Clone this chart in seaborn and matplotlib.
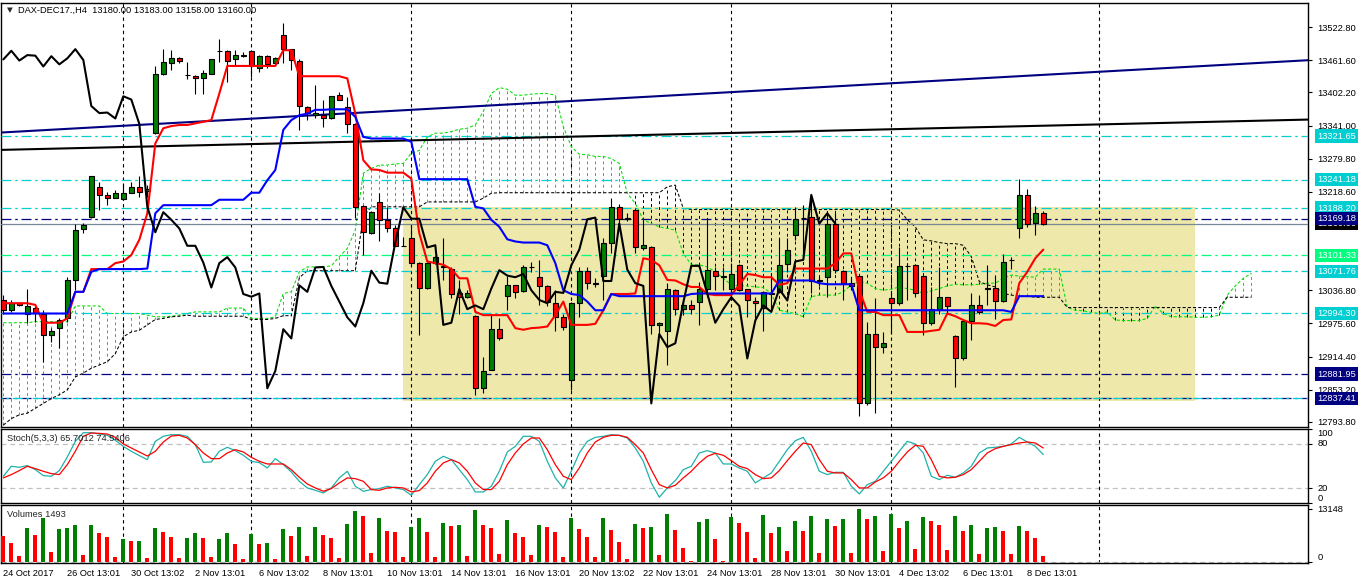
import numpy as np
import matplotlib
matplotlib.use("Agg")
import matplotlib.pyplot as plt
from matplotlib import font_manager
import seaborn as sns

# DAX-DEC17 H4 candles (oldest first)
opens = [13019, 13000, 13014, 12994, 13005, 12994, 12954, 12967, 12985, 13056,
         13150, 13173, 13228, 13213, 13208, 13205, 13217, 13227, 13221, 13327,
         13436, 13457, 13465, 13435, 13432, 13428, 13437, 13479, 13478, 13463,
         13471, 13478, 13448, 13469, 13456, 13509, 13482, 13461, 13375, 13360,
         13360, 13354, 13397, 13376, 13343, 13193, 13142, 13200, 13167, 13151,
         13119, 13133, 13088, 13042, 13087, 13082, 13077, 13031, 13025, 12989,
         12856, 12890, 12965, 13026, 13046, 13036, 13080, 13061, 13045, 13014,
         12988, 12871, 13013, 13073, 13050, 13064, 13125, 13190, 13170, 13186,
         13115, 13117, 12973, 12961, 13037, 13002, 13010, 13015, 13040, 13073,
         13064, 13039, 13084, 13039, 13018, 13004, 13030, 13034, 13085, 13139,
         13170, 13172, 13055, 13061, 13160, 13073, 13051, 13064, 12828, 12956,
         12932, 13023, 13014, 13082, 13083, 13063, 12977, 13003, 13024, 12952,
         12911, 12981, 13009, 13042, 13041, 13018, 13093, 13151, 13213, 13161,
         13180]
highs = [13028, 13019, 13016, 13040, 13007, 13000, 12967, 12985, 13062, 13160,
         13162, 13248, 13237, 13219, 13222, 13235, 13237, 13247, 13231, 13450,
         13483, 13480, 13467, 13459, 13434, 13443, 13464, 13500, 13480, 13480,
         13477, 13480, 13471, 13471, 13468, 13531, 13483, 13463, 13377, 13416,
         13388, 13396, 13403, 13394, 13345, 13195, 13183, 13216, 13191, 13157,
         13136, 13157, 13089, 13090, 13100, 13133, 13079, 13056, 13037, 12991,
         12914, 12994, 12985, 13063, 13047, 13084, 13090, 13093, 13046, 13037,
         12994, 13015, 13080, 13080, 13059, 13133, 13207, 13197, 13179, 13188,
         13167, 13118, 12978, 13050, 13039, 13019, 13019, 13053, 13167, 13080,
         13080, 13087, 13085, 13040, 13025, 13036, 13068, 13133, 13133, 13191,
         13194, 13210, 13062, 13179, 13179, 13075, 13062, 13066, 12979, 13022,
         12959, 13031, 13117, 13087, 13084, 13064, 13043, 13080, 13025, 12954,
         12983, 13032, 13028, 13083, 13065, 13104, 13099, 13242, 13224, 13192,
         13183]
lows = [12994, 12997, 13007, 12976, 12979, 12905, 12942, 12930, 12979, 13037,
        13143, 13171, 13185, 13194, 13207, 13204, 13216, 13210, 13210, 13326,
        13434, 13443, 13456, 13426, 13400, 13400, 13436, 13459, 13422, 13453,
        13468, 13431, 13440, 13447, 13454, 13456, 13443, 13333, 13351, 13354,
        13339, 13353, 13388, 13327, 13170, 13102, 13140, 13127, 13145, 13118,
        13118, 13087, 12955, 13040, 13085, 13056, 13022, 12994, 13022, 12844,
        12847, 12889, 12946, 13000, 13023, 13034, 13071, 13010, 13007, 12961,
        12964, 12853, 12988, 13040, 13043, 13019, 13105, 13154, 13164, 13105,
        13111, 12957, 12957, 12899, 12991, 12991, 12994, 12973, 13025, 13037,
        13037, 13019, 13036, 12988, 12982, 12961, 13000, 13031, 13071, 13130,
        13099, 13031, 13044, 13025, 13068, 13019, 13037, 12804, 12825, 12811,
        12922, 12957, 13010, 13019, 13025, 12955, 12973, 12994, 12994, 12859,
        12909, 12945, 12994, 13010, 12983, 13016, 13077, 13134, 13154, 13139,
        13158]
closes = [13000, 13013, 13010, 13007, 12995, 12954, 12962, 12982, 13056, 13149,
          13158, 13247, 13212, 13208, 13216, 13216, 13227, 13219, 13224, 13437,
          13458, 13465, 13461, 13434, 13428, 13438, 13463, 13479, 13461, 13471,
          13470, 13450, 13469, 13454, 13465, 13482, 13462, 13377, 13364, 13365,
          13354, 13395, 13389, 13344, 13191, 13144, 13181, 13167, 13151, 13119,
          13119, 13088, 13042, 13087, 13098, 13079, 13030, 13025, 13031, 12856,
          12888, 12965, 12948, 13046, 13034, 13079, 13080, 13045, 13016, 12987,
          12970, 13013, 13073, 13051, 13049, 13125, 13190, 13169, 13169, 13116,
          13120, 12973, 12977, 13039, 13002, 13009, 13002, 13040, 13074, 13064,
          13061, 13067, 13037, 13019, 13013, 13034, 13032, 13083, 13112, 13168,
          13171, 13054, 13054, 13160, 13075, 13050, 13045, 12828, 12956, 12932,
          12939, 13014, 13082, 13082, 13031, 12977, 13002, 13024, 13008, 12911,
          12981, 13009, 12997, 13039, 13018, 13090, 13093, 13213, 13160, 13179,
          13160]

# Ichimoku lines as drawn
tenkan = [13013, 13013, 13013, 13013, 13010, 12977, 12977, 12977, 12985, 13034,
          13034, 13076, 13076, 13076, 13087, 13090, 13102, 13130, 13179, 13308,
          13336, 13340, 13342, 13342, 13345, 13348, 13351, 13400, 13451, 13451,
          13451, 13451, 13451, 13451, 13451, 13480, 13480, 13432, 13432, 13432,
          13432, 13432, 13432, 13428, 13363, 13277, 13260, 13259, 13254, 13254,
          13254, 13243, 13142, 13090, 13087, 13084, 13076, 13059, 13059, 12997,
          12991, 12991, 12991, 12991, 12967, 12964, 12967, 12968, 12970, 12991,
          13016, 12973, 12973, 12973, 12975, 13000, 13030, 13030, 13030, 13031,
          13096, 13093, 13083, 13056, 13055, 13048, 13043, 13043, 13030, 13028,
          13028, 13028, 13047, 13067, 13065, 13061, 13061, 13047, 13050, 13077,
          13077, 13077, 13077, 13077, 13087, 13105, 13105, 13037, 12997, 12997,
          12991, 12991, 12991, 12960, 12960, 12960, 12962, 12964, 12994, 12989,
          12982, 12976, 12976, 12975, 12971, 12982, 12983, 13050, 13071, 13096,
          13112]
kijun = [12994, 12994, 12994, 12994, 12994, 12994, 12994, 12994, 12994, 13034,
         13034, 13071, 13076, 13076, 13076, 13076, 13076, 13076, 13077, 13179,
         13194, 13194, 13194, 13194, 13194, 13194, 13194, 13204, 13204, 13204,
         13204, 13217, 13217, 13240, 13259, 13333, 13351, 13360, 13363, 13370,
         13370, 13371, 13371, 13371, 13357, 13320, 13317, 13317, 13317, 13317,
         13317, 13311, 13242, 13242, 13242, 13242, 13242, 13242, 13242, 13191,
         13188, 13167, 13154, 13131, 13127, 13125, 13125, 13125, 13120, 13087,
         13037, 13030, 13028, 13016, 13000, 13000, 13030, 13026, 13026, 13026,
         13026, 13026, 13026, 13026, 13026, 13026, 13030, 13031, 13031, 13031,
         13031, 13031, 13031, 13031, 13031, 13031, 13031, 13055, 13055, 13055,
         13055, 13055, 13050, 13048, 13048, 13048, 13048, 13000, 13000, 13000,
         13000, 13000, 13000, 13000, 13000, 13000, 13000, 13000, 13000, 13000,
         13000, 13000, 13000, 13000, 13000, 13000, 12997, 13026, 13026, 13026,
         13026]
# Senkou spans (already shifted 26 bars ahead, so they run past the last candle)
span_a = [12977, 12977, 12977, 12977, 12979, 12979, 12979, 12979, 12979, 13008,
          13008, 13008, 13008, 12994, 12994, 12994, 12994, 12994, 12991, 12988,
          12988, 12989, 12991, 12994, 12997, 12997, 12997, 12997, 13004, 13004,
          13004, 12985, 12985, 12985, 12988, 13031, 13034, 13071, 13080, 13080,
          13080, 13082, 13099, 13114, 13148, 13253, 13262, 13268, 13268, 13270,
          13271, 13290, 13295, 13320, 13327, 13327, 13330, 13334, 13336, 13342,
          13367, 13400, 13411, 13408, 13397, 13397, 13399, 13400, 13400, 13397,
          13339, 13302, 13288, 13287, 13284, 13284, 13280, 13271, 13216, 13197,
          13167, 13160, 13154, 13151, 13148, 13105, 13084, 13084, 13080, 13071,
          13059, 13047, 13045, 13045, 13043, 13042, 13031, 13000, 12997, 12994,
          12988, 13025, 13028, 13028, 13028, 13034, 13047, 13053, 13050, 13040,
          13037, 13039, 13043, 13040, 13037, 13031, 13036, 13040, 13045, 13048,
          13047, 13047, 13048, 13050, 13050, 13059, 13065, 13063, 13062, 13061,
          13076, 13076, 13076, 13005, 13000, 12999, 12996, 12994, 12997, 12982,
          12981, 12981, 12981, 12985, 13008, 12994, 12988, 12988, 12988, 12987,
          12987, 12988, 12991, 13028, 13045, 13059, 13068]
span_b = [12788, 12800, 12807, 12810, 12819, 12828, 12837, 12844, 12853, 12877,
          12884, 12893, 12899, 12905, 12920, 12951, 12960, 12963, 12973, 12983,
          12985, 12988, 12989, 12991, 12989, 12989, 12989, 12989, 12989, 12989,
          12989, 12983, 12983, 12983, 12985, 12990, 12990, 13060, 13073, 13073,
          13073, 13073, 13073, 13073, 13073, 13173, 13191, 13191, 13191, 13191,
          13191, 13191, 13191, 13200, 13200, 13200, 13200, 13200, 13200, 13200,
          13207, 13216, 13217, 13217, 13217, 13217, 13217, 13217, 13217, 13217,
          13217, 13217, 13217, 13217, 13217, 13217, 13217, 13217, 13217, 13217,
          13217, 13217, 13217, 13228, 13231, 13188, 13186, 13186, 13186, 13186,
          13186, 13186, 13186, 13186, 13186, 13186, 13186, 13186, 13186, 13186,
          13186, 13186, 13186, 13186, 13186, 13186, 13186, 13186, 13186, 13186,
          13186, 13186, 13185, 13167, 13154, 13130, 13128, 13125, 13123, 13123,
          13120, 13099, 13053, 13047, 13043, 13031, 13028, 13026, 13026, 13024,
          13024, 13024, 13024, 13005, 13005, 13005, 13005, 13005, 13005, 13005,
          13005, 13005, 13005, 13005, 13005, 13005, 13005, 13005, 13005, 13005,
          13005, 13005, 13005, 13024, 13024, 13024, 13024]

stoch_k = [36.2, 49.8, 48.4, 50.7, 45.2, 37.1, 36.2, 43.9, 62.4, 83.6,
           95.3, 95.3, 93.5, 91.7, 85.0, 76.8, 70.1, 64.2, 58.8, 83.6,
           90.4, 92.6, 92.6, 90.4, 79.1, 55.2, 55.6, 70.1, 75.5, 71.0,
           64.7, 56.5, 54.7, 47.5, 60.1, 52.0, 42.1, 29.4, 20.4, 17.2,
           13.6, 20.4, 34.0, 43.0, 22.7, 15.9, 18.2, 19.5, 22.7, 20.4,
           18.2, 10.5, 24.9, 38.5, 56.5, 63.3, 58.8, 45.2, 31.7, 15.0,
           15.0, 22.7, 43.0, 69.2, 76.8, 90.4, 90.4, 83.6, 56.5, 34.0,
           20.4, 43.0, 67.8, 83.6, 89.0, 90.4, 92.6, 91.7, 88.1, 74.6,
           56.5, 27.2, 7.8, 20.4, 30.3, 45.2, 49.8, 67.8, 71.0, 67.8,
           52.9, 52.9, 47.5, 43.0, 27.2, 34.0, 40.7, 56.5, 72.3, 84.5,
           89.0, 70.1, 43.0, 38.5, 41.6, 41.6, 22.7, 12.3, 24.9, 29.4,
           43.0, 56.5, 70.1, 83.6, 80.0, 67.8, 36.2, 31.7, 37.6, 34.9,
           40.7, 49.8, 67.8, 74.6, 75.5, 76.8, 80.0, 89.0, 82.7, 76.8,
           65.7012]
stoch_d = [34.0, 38.5, 43.9, 49.8, 46.6, 43.0, 39.8, 38.5, 52.0, 70.1,
           90.4, 94.9, 94.4, 93.5, 89.0, 80.0, 74.6, 69.2, 63.7, 70.1,
           82.7, 90.8, 91.7, 88.1, 79.1, 67.8, 60.1, 60.1, 67.8, 72.3,
           69.2, 61.9, 56.5, 52.9, 52.9, 52.9, 45.2, 34.9, 25.8, 20.4,
           15.9, 19.5, 27.2, 34.0, 33.0, 29.4, 18.2, 17.2, 20.4, 21.3,
           20.4, 15.0, 16.8, 27.2, 43.0, 54.3, 58.8, 54.3, 43.0, 27.2,
           18.2, 18.2, 29.4, 52.0, 67.8, 80.0, 88.1, 88.1, 72.3, 52.0,
           36.2, 31.7, 47.5, 67.8, 82.7, 89.0, 91.7, 91.7, 89.0, 79.1,
           67.8, 45.2, 24.9, 20.4, 24.0, 34.0, 43.0, 54.3, 63.3, 67.4,
           64.7, 57.4, 49.8, 46.6, 38.5, 33.0, 34.0, 43.9, 57.4, 70.1,
           81.4, 79.1, 58.8, 43.0, 40.7, 40.7, 31.7, 20.4, 20.4, 28.5,
           34.0, 43.0, 56.5, 69.2, 78.2, 76.8, 58.8, 36.2, 34.0, 34.9,
           38.5, 45.2, 56.5, 67.8, 73.7, 76.8, 79.1, 81.4, 82.7, 81.4,
           74.5406]
volumes = [6494, 4768, 1644, 8467, 6740, 10933, 2548, 8220, 8467, 9206,
           1808, 9206, 7234, 6247, 1315, 5754, 5300, 5400, 1069, 8467,
           7480, 6247, 1069, 6001, 7234, 6001, 1315, 5754, 7234, 4521,
           822, 6987, 4521, 4768, 822, 8220, 6494, 8713, 1562, 8713,
           6740, 6001, 1069, 9453, 12659, 11426, 2302, 10933, 7727, 7480,
           1315, 8713, 10933, 7480, 1315, 9700, 8960, 9206, 1562, 12905,
           9206, 8467, 2055, 10439, 7234, 6247, 1808, 9206, 8713, 7480,
           1315, 10933, 8220, 6247, 1315, 10933, 7973, 5014, 822, 9453,
           8467, 8713, 1808, 11919, 7973, 3535, 329, 9946, 10686, 5754,
           329, 11179, 9700, 7480, 1069, 11672, 7234, 8713, 2795, 10193,
           7727, 11426, 2302, 10686, 8960, 10686, 2302, 13148, 10686, 11426,
           2795, 11919, 8467, 10193, 3288, 11179, 10193, 9206, 3041, 11426,
           7727, 9206, 2055, 8467, 8713, 7727, 2055, 8960, 7727, 6001,
           1493]

tick_bars = [0, 8, 16, 24, 32, 40, 48, 56, 64, 72, 80, 88, 96, 104, 112, 120, 128]
tick_labels = ["24 Oct 2017", "26 Oct 13:01", "30 Oct 13:02", "2 Nov 13:01",
               "6 Nov 13:02", "8 Nov 13:01", "10 Nov 13:01", "14 Nov 13:01",
               "16 Nov 13:01", "20 Nov 13:02", "22 Nov 13:01", "24 Nov 13:01",
               "28 Nov 13:01", "30 Nov 13:01", "4 Dec 13:02", "6 Dec 13:01",
               "8 Dec 13:01"]
grid_bars = [15, 31, 51, 71, 91, 111, 137]
# visible price scale labels (the ones under the coloured boxes are hidden in the original)
price_ticks = [13522.80, 13461.60, 13402.20, 13341.00, 13279.80, 13218.60,
               13036.80, 12975.60, 12914.40, 12853.20, 12793.80]

# horizontal levels and their axis boxes
levels = [13321.65, 13241.18, 13188.20, 13169.18, 13101.33, 13071.76, 12994.30, 12881.95, 12837.41]
level_colors = ["#00ced1", "#00ced1", "#00ced1", "#000080", "#00ff7f", "#00ced1", "#00ced1", "#000080", "#000080"]
last_price = 13160.00

# zone rectangle and the two trend lines
box_left, box_right, box_top, box_bottom = 50, 149, 13190, 12833
trend_navy = ([-0.4, 163.1], [13328, 13461.6])
trend_black = ([-0.4, 163.1], [13296, 13352])

sns.set_style("white")
names = {f.name for f in font_manager.fontManager.ttflist}
if "Liberation Sans Narrow" in names:
    plt.rcParams["font.family"] = ["Liberation Sans Narrow", "DejaVu Sans"]
    fs = 7.8
else:
    plt.rcParams["font.family"] = ["Liberation Sans", "DejaVu Sans"]
    fs = 6.7

W, H = 1358, 584
fig = plt.figure(figsize=(W / 100, H / 100), dpi=100)
fig.patch.set_facecolor("white")


def panel(top, bottom):
    a = fig.add_axes([1 / W, 1 - bottom / H, 1307 / W, (bottom - top) / H])
    a.set_facecolor("white")
    for s in a.spines.values():
        s.set_color("black")
        s.set_linewidth(1)
        s.set_visible(True)
    return a


ax = panel(3, 427)
ax_st = panel(429, 503)
ax_vol = panel(505, 563)

bars = np.arange(len(closes))
o, h, l, c = (np.array(v, dtype=float) for v in (opens, highs, lows, closes))
xlim = (-0.29, 163.09)

# ---- main price panel ----
ax.fill_between([box_left, box_right], box_bottom, box_top, color="#eee8aa", lw=0, zorder=0)

span_x = np.arange(len(span_a))
sa, sb = np.array(span_a, dtype=float), np.array(span_b, dtype=float)
hatch_cols = np.where(sa >= sb, "#00dd00", "black")
ax.vlines(span_x, np.minimum(sa, sb), np.maximum(sa, sb), colors=hatch_cols,
          linestyles=(0, (3, 3)), linewidth=0.7, zorder=1)
sns.lineplot(x=span_x, y=sa, ax=ax, color="#00dd00", linewidth=0.75, linestyle=(0, (3, 2)), zorder=2)
sns.lineplot(x=span_x, y=sb, ax=ax, color="black", linewidth=0.75, linestyle=(0, (3, 2)), zorder=2)

for g in grid_bars:
    for a in (ax, ax_st, ax_vol):
        a.axvline(g, color="black", linewidth=0.8, linestyle=(0, (3, 3)), zorder=1.5)

for lv, col in zip(levels, level_colors):
    ax.axhline(lv, color=col, linewidth=0.9, linestyle=(0, (8, 3, 2, 3)), zorder=3)
ax.axhline(levels[-1], color="#00ced1", linewidth=0.9, linestyle=(7, (8, 3, 2, 3)), zorder=3)
ax.axhline(last_price, color="#778899", linewidth=0.9, zorder=3)

sns.lineplot(x=trend_navy[0], y=trend_navy[1], ax=ax, color="#000080", linewidth=1.5, zorder=4)
sns.lineplot(x=trend_black[0], y=trend_black[1], ax=ax, color="black", linewidth=1.5, zorder=4)

ax.vlines(bars, l, h, color="black", linewidth=0.8, zorder=5)
body_cols = np.where(c >= o, "#008000", "#ff0000")
ax.bar(bars, c - o, bottom=o, width=0.6, color=body_cols, edgecolor="black", linewidth=0.8, zorder=6)

sns.lineplot(x=bars, y=tenkan, ax=ax, color="#ff0000", linewidth=1.5, zorder=7)
sns.lineplot(x=bars, y=kijun, ax=ax, color="#0000ff", linewidth=1.5, zorder=7)
sns.lineplot(x=bars[:-26], y=c[26:], ax=ax, color="black", linewidth=1.5, zorder=7)

ax.set_xlim(*xlim)
ax.set_ylim(12784.5, 13567.2)
ax.set_xticks([])
ax.yaxis.tick_right()
ax.set_yticks(price_ticks)
ax.set_yticklabels([f"{p:.2f}" for p in price_ticks])
ax.tick_params(axis="y", length=3, width=0.8, pad=4, labelsize=fs, colors="black", direction="out")
ax.set_xlabel("")
ax.set_ylabel("")

# boxed price labels on the axis (text starts where the tick labels start)
box_x = 1 + 9 / 1307
ax.text(box_x, last_price, f"{last_price:.2f}", transform=ax.get_yaxis_transform(), ha="left", va="center",
        color="white", fontsize=fs, zorder=20, clip_on=False,
        bbox=dict(boxstyle="square,pad=0.25", fc="black", ec="none"))
for lv, col in zip(levels, level_colors):
    ax.text(box_x, lv, f"{lv:.2f}", transform=ax.get_yaxis_transform(), ha="left", va="center",
            color="white", fontsize=fs, zorder=21, clip_on=False,
            bbox=dict(boxstyle="square,pad=0.25", fc=col, ec="none"))

fig.text(7 / W, 1 - 10.5 / H, "\u25bc", fontsize=fs * 0.8, va="center", ha="left", family="DejaVu Sans")
fig.text(18 / W, 1 - 10.5 / H, "DAX-DEC17.,H4  13180.00 13183.00 13158.00 13160.00",
         fontsize=fs, va="center", ha="left", color="black")

# ---- stochastic panel ----
sns.lineplot(x=bars, y=stoch_k, ax=ax_st, color="#20b2aa", linewidth=0.9, zorder=3)
sns.lineplot(x=bars, y=stoch_d, ax=ax_st, color="#ff0000", linewidth=0.9, zorder=3)
for lvl in (80, 20):
    ax_st.axhline(lvl, color="#c0c0c0", linewidth=0.9, linestyle=(0, (4, 3)), zorder=1)
ax_st.set_xlim(*xlim)
ax_st.set_ylim(0, 100.3)
ax_st.set_xticks([])
ax_st.yaxis.tick_right()
ax_st.set_yticks([100, 80, 20, 0])
ax_st.set_yticklabels(["100", "80", "20", "0"])
ax_st.tick_params(axis="y", length=3, width=0.8, pad=4, labelsize=fs, colors="black")
for t, va in zip(ax_st.get_yticklabels(), ["top", "center", "center", "bottom"]):
    t.set_va(va)
ax_st.set_xlabel("")
ax_st.set_ylabel("")
ax_st.text(6 / 1307, 0.878, "Stoch(5,3,3) 65.7012 74.5406", transform=ax_st.transAxes,
           fontsize=fs, va="center", ha="left", zorder=10)

# ---- volume panel ----
vol = np.array(volumes, dtype=float)
prev = np.r_[np.inf, vol[:-1]]
vol_cols = np.where(vol > prev, "#008000", "#ff0000")
ax_vol.bar(bars, vol, width=0.5, color=vol_cols, linewidth=0, zorder=3)
ax_vol.axhline(0, color="#c0c0c0", linewidth=0.9, linestyle=(0, (4, 3)), zorder=2)
ax_vol.set_xlim(*xlim)
ax_vol.set_ylim(-124, 14180)
ax_vol.yaxis.tick_right()
ax_vol.set_yticks([max(volumes), 0])
ax_vol.set_yticklabels([str(max(volumes)), "0"])
ax_vol.tick_params(axis="y", length=3, width=0.8, pad=4, labelsize=fs, colors="black")
for t, va in zip(ax_vol.get_yticklabels(), ["center", "bottom"]):
    t.set_va(va)
ax_vol.set_xticks(tick_bars)
ax_vol.set_xticklabels(tick_labels, ha="left")
ax_vol.tick_params(axis="x", length=3, width=0.8, pad=1.5, labelsize=fs, colors="black", direction="out")
ax_vol.set_xlabel("")
ax_vol.set_ylabel("")
ax_vol.text(6 / 1307, 0.83, f"Volumes {volumes[-1]}", transform=ax_vol.transAxes,
            fontsize=fs, va="center", ha="left", zorder=10)

fig.savefig("out.png", dpi=100, facecolor="white")
